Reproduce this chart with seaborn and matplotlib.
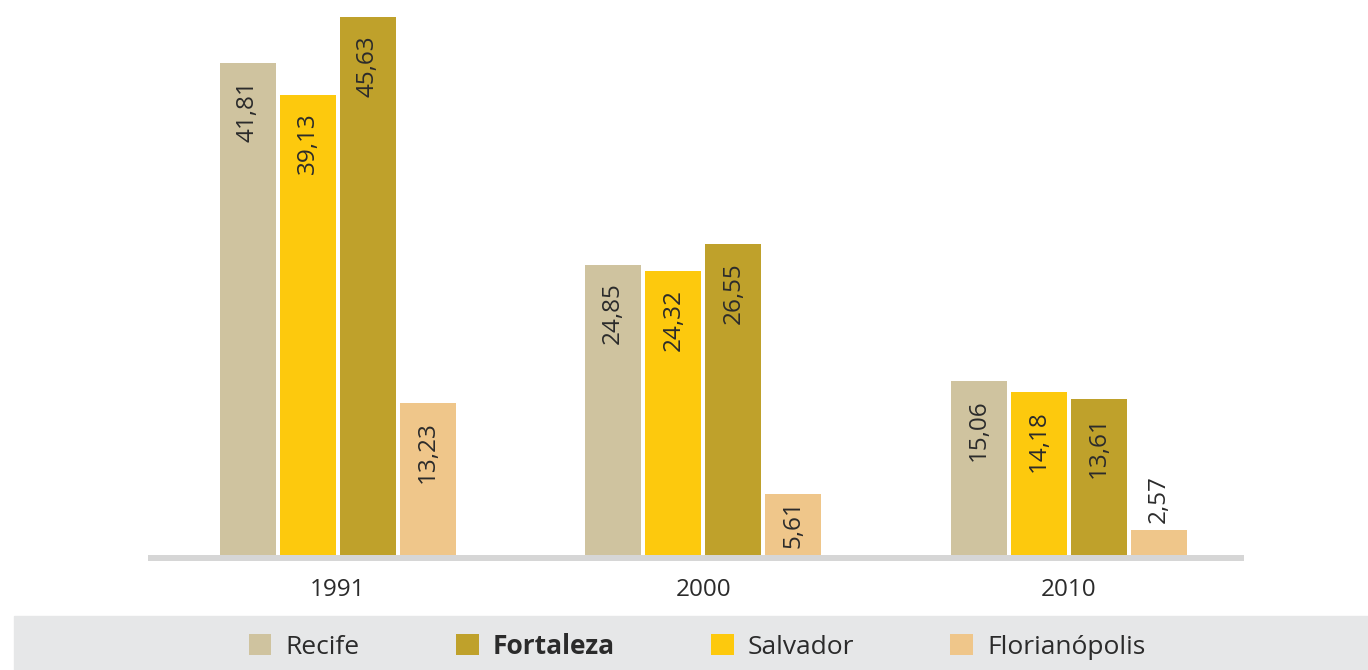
import pandas as pd
import seaborn as sns
import matplotlib.pyplot as plt
from matplotlib.patches import Patch, Rectangle

years = ['1991', '2000', '2010']
cities = ['Recife', 'Salvador', 'Fortaleza', 'Florianópolis']
recife = [41.81, 24.85, 15.06]
salvador = [39.13, 24.32, 14.18]
fortaleza = [45.63, 26.55, 13.61]
florianopolis = [13.23, 5.61, 2.57]
legend_order = ['Recife', 'Fortaleza', 'Salvador', 'Florianópolis']

colors = {'Recife': '#cfc39f', 'Salvador': '#fdc90d',
          'Fortaleza': '#bfa12b', 'Florianópolis': '#efc68a'}

rows = []
for city, vals in zip(cities, [recife, salvador, fortaleza, florianopolis]):
    for y, v in zip(years, vals):
        rows.append({'ano': y, 'cidade': city, 'valor': v})
df = pd.DataFrame(rows)

sns.set_style('white')
plt.rcParams['font.family'] = ['Open Sans', 'DejaVu Sans']
txt = '#2b2b2b'

fig = plt.figure(figsize=(13.68, 6.7), dpi=100)
ax = fig.add_axes([148 / 1368, 115 / 670, 1096 / 1368, 545 / 670])

sns.barplot(data=df, x='ano', y='valor', hue='cidade', hue_order=cities,
            palette=colors, width=0.6575, gap=0.067, saturation=1,
            linewidth=0, legend=False, ax=ax, errorbar=None)

ax.set_xlim(-0.52, 2.48)
ax.set_ylim(0.47, 46.23)
ax.set_xlabel('')
ax.set_ylabel('')
ax.set_yticks([])
for s in ['left', 'right', 'top']:
    ax.spines[s].set_visible(False)
sp = ax.spines['bottom']
sp.set_color('#d6d6d6')
sp.set_linewidth(4.3)
sp.set_capstyle('butt')
sp.set_position(('outward', 2.2))
ax.tick_params(axis='x', length=0, pad=14, labelsize=17.5, labelcolor=txt)

for cont in ax.containers:
    for bar in cont:
        h = bar.get_height()
        lab = f'{h:.2f}'.replace('.', ',')
        x = bar.get_x() + bar.get_width() / 2
        if h > 8:
            ax.annotate(lab, (x, h), xytext=(0, -13), textcoords='offset points',
                        rotation=90, ha='center', va='top', fontsize=17.5, color=txt)
        elif h > 4:
            ax.annotate(lab, (x, h), xytext=(0, -5), textcoords='offset points',
                        rotation=90, ha='center', va='top', fontsize=17.5, color=txt)
        else:
            ax.annotate(lab, (x, h), xytext=(0, 5), textcoords='offset points',
                        rotation=90, ha='center', va='bottom', fontsize=17.5, color=txt)

# legend band
fig.patches.append(Rectangle((14 / 1368, 0), 1 - 14 / 1368, 54 / 670,
                             transform=fig.transFigure, color='#e6e7e8', zorder=0))
handles = [Patch(facecolor=colors[c], edgecolor='none') for c in legend_order]
leg = fig.legend(handles, legend_order, loc='center', ncol=4,
                 bbox_to_anchor=(697 / 1368, 1 - 646 / 670), frameon=False,
                 fontsize=19, handlelength=0.87, handleheight=0.87,
                 handletextpad=0.53, columnspacing=3.64)
for t in leg.get_texts():
    t.set_color(txt)
    if t.get_text() == 'Fortaleza':
        t.set_fontweight('bold')

fig.savefig('out.png', dpi=100)
